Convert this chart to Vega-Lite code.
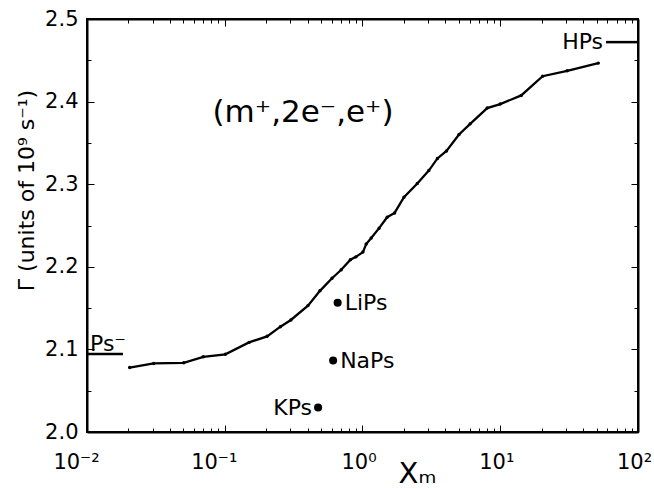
{
  "$schema": "https://vega.github.io/schema/vega-lite/v6.json",
  "autosize": "none",
  "width": 551,
  "height": 413,
  "padding": {"left": 87, "top": 19, "right": 16, "bottom": 57},
  "config": {"view": {"stroke": "black", "strokeWidth": 2}},
  "datasets": {
    "curve": [
      {"x": 0.0204, "y": 2.078}, {"x": 0.0305, "y": 2.083}, {"x": 0.0504, "y": 2.0838},
      {"x": 0.0698, "y": 2.091}, {"x": 0.101, "y": 2.094}, {"x": 0.150, "y": 2.1085},
      {"x": 0.203, "y": 2.1158}, {"x": 0.2535, "y": 2.1275}, {"x": 0.302, "y": 2.1356},
      {"x": 0.402, "y": 2.153}, {"x": 0.491, "y": 2.1709}, {"x": 0.601, "y": 2.1862},
      {"x": 0.701, "y": 2.1964}, {"x": 0.817, "y": 2.2085}, {"x": 0.895, "y": 2.212},
      {"x": 1.007, "y": 2.2178}, {"x": 1.064, "y": 2.2275}, {"x": 1.157, "y": 2.2348},
      {"x": 1.32, "y": 2.2468}, {"x": 1.51, "y": 2.26}, {"x": 1.71, "y": 2.2652},
      {"x": 2.0, "y": 2.2842}, {"x": 2.5, "y": 2.3008}, {"x": 3.03, "y": 2.3165},
      {"x": 3.5, "y": 2.3312}, {"x": 4.07, "y": 2.3403}, {"x": 5.02, "y": 2.3602},
      {"x": 6.05, "y": 2.3731}, {"x": 8.04, "y": 2.3922}, {"x": 10.0, "y": 2.397},
      {"x": 14.2, "y": 2.4075}, {"x": 20.3, "y": 2.4307}, {"x": 30.6, "y": 2.4373},
      {"x": 51.5, "y": 2.4466}
    ],
    "atoms": [
      {"name": "LiPs", "x": 0.66, "y": 2.1565, "side": "right"},
      {"name": "NaPs", "x": 0.612, "y": 2.0865, "side": "right"},
      {"name": "KPs", "x": 0.476, "y": 2.0296, "side": "left"}
    ],
    "limits": [
      {"name": "Ps⁻", "x": 0.01, "x2": 0.01824, "y": 2.0945},
      {"name": "HPs", "x": 58.6, "x2": 100, "y": 2.472}
    ]
  },
  "layer": [
    {
      "layer": [
        {
          "data": {"name": "curve"},
          "mark": {"type": "line", "color": "black", "strokeWidth": 2.3},
          "encoding": {
            "x": {"field": "x", "type": "quantitative",
              "scale": {"type": "log", "domain": [0.01, 100], "nice": false},
              "axis": {
                "orient": "bottom",
                "grid": false,
                "domainColor": "black",
                "domainWidth": 2,
                "tickColor": "black",
                "values": [0.01,0.02,0.03,0.04,0.05,0.06,0.07,0.08,0.09,0.1,0.2,0.3,0.4,0.5,0.6,0.7,0.8,0.9,1,2,3,4,5,6,7,8,9,10,20,30,40,50,60,70,80,90,100],
                "labelExpr": "abs(log(datum.value)/LN10 - round(log(datum.value)/LN10)) < 1e-6 ? (round(log(datum.value)/LN10) == -2 ? '10⁻²' : round(log(datum.value)/LN10) == -1 ? '10⁻¹' : round(log(datum.value)/LN10) == 0 ? '10⁰' : round(log(datum.value)/LN10) == 1 ? '10¹' : '10²') : ''",
                "tickSize": {"condition": {"test": "abs(log(datum.value)/LN10 - round(log(datum.value)/LN10)) < 1e-6", "value": -7}, "value": -4},
                "labelPadding": 26,
                "labelOffset": {"condition": {"test": "datum.value < 0.5", "value": -11}, "value": -4},
                "labelFont": "DejaVu Sans",
                "labelFontSize": 21,
                "labelColor": "black",
                "labelFlush": false,
                "labelOverlap": false,
                "title": "Xₘ",
                "titleFont": "DejaVu Sans",
                "titleFontSize": 29,
                "titleFontWeight": "normal",
                "titleColor": "black",
                "titleX": 330,
                "titleY": 27,
                "titleBaseline": "top"
              }
            },
            "y": {"field": "y", "type": "quantitative",
              "scale": {"domain": [2.0, 2.5], "nice": false, "zero": false},
              "axis": {
                "orient": "left",
                "grid": false,
                "domainColor": "black",
                "domainWidth": 2,
                "tickColor": "black",
                "values": [2.0,2.05,2.1,2.15,2.2,2.25,2.3,2.35,2.4,2.45,2.5],
                "labelExpr": "abs(datum.value*10 - round(datum.value*10)) < 1e-6 ? format(datum.value, '.1f') : ''",
                "tickSize": {"condition": {"test": "abs(datum.value*10 - round(datum.value*10)) < 1e-6", "value": -7}, "value": -4},
                "labelPadding": 16,
                "labelFont": "DejaVu Sans",
                "labelFontSize": 21,
                "labelColor": "black",
                "labelFlush": false,
                "labelOverlap": false,
                "title": "Γ  (units of 10⁹ s⁻¹)",
                "titleFont": "DejaVu Sans",
                "titleFontSize": 22,
                "titleFontWeight": "normal",
                "titleColor": "black",
                "titleX": -61,
                "titleY": 171,
                "titleAngle": -90,
                "titleAlign": "center",
                "titleBaseline": "middle"
              }
            }
          }
        },
        {
          "data": {"name": "atoms"},
          "mark": {"type": "circle", "color": "black", "opacity": 1, "size": 65},
          "encoding": {
            "x": {"field": "x", "type": "quantitative"},
            "y": {"field": "y", "type": "quantitative"}
          }
        },
        {
          "data": {"name": "atoms"},
          "transform": [{"filter": "datum.side == 'right'"}],
          "mark": {"type": "text", "align": "left", "baseline": "middle", "dx": 7, "fontSize": 22, "font": "DejaVu Sans", "color": "black"},
          "encoding": {
            "x": {"field": "x", "type": "quantitative"},
            "y": {"field": "y", "type": "quantitative"},
            "text": {"field": "name"}
          }
        },
        {
          "data": {"name": "atoms"},
          "transform": [{"filter": "datum.side == 'left'"}],
          "mark": {"type": "text", "align": "right", "baseline": "middle", "dx": -6, "fontSize": 22, "font": "DejaVu Sans", "color": "black"},
          "encoding": {
            "x": {"field": "x", "type": "quantitative"},
            "y": {"field": "y", "type": "quantitative"},
            "text": {"field": "name"}
          }
        },
        {
          "data": {"name": "limits"},
          "mark": {"type": "rule", "color": "black", "strokeWidth": 2.5},
          "encoding": {
            "x": {"field": "x", "type": "quantitative"},
            "x2": {"field": "x2"},
            "y": {"field": "y", "type": "quantitative"}
          }
        },
        {
          "data": {"name": "limits"},
          "transform": [{"filter": "datum.name == 'HPs'"}],
          "mark": {"type": "text", "align": "right", "baseline": "middle", "dx": -3, "fontSize": 22, "font": "DejaVu Sans", "color": "black"},
          "encoding": {
            "x": {"field": "x", "type": "quantitative"},
            "y": {"field": "y", "type": "quantitative"},
            "text": {"field": "name"}
          }
        },
        {
          "data": {"name": "limits"},
          "transform": [{"filter": "datum.name == 'Ps⁻'"}],
          "mark": {"type": "text", "align": "left", "baseline": "alphabetic", "dx": 3, "dy": -3, "fontSize": 22, "font": "DejaVu Sans", "color": "black"},
          "encoding": {
            "x": {"field": "x", "type": "quantitative"},
            "y": {"field": "y", "type": "quantitative"},
            "text": {"field": "name"}
          }
        },
        {
          "data": {"values": [{"label": "(m⁺,2e⁻,e⁺)", "x": 0.37, "y": 2.386}]},
          "mark": {"type": "text", "align": "center", "baseline": "middle", "fontSize": 31, "font": "DejaVu Sans", "color": "black"},
          "encoding": {
            "x": {"field": "x", "type": "quantitative"},
            "y": {"field": "y", "type": "quantitative"},
            "text": {"field": "label"}
          }
        }
      ]
    },
    {
      "data": {"name": "curve"},
      "mark": {"type": "circle", "color": "black", "opacity": 1, "size": 12},
      "encoding": {
        "x": {"field": "x", "type": "quantitative",
          "axis": {
            "orient": "top",
            "grid": false,
            "domainColor": "black",
            "domainWidth": 2,
            "tickColor": "black",
            "values": [0.01,0.02,0.03,0.04,0.05,0.06,0.07,0.08,0.09,0.1,0.2,0.3,0.4,0.5,0.6,0.7,0.8,0.9,1,2,3,4,5,6,7,8,9,10,20,30,40,50,60,70,80,90,100],
            "labels": false,
            "title": null,
            "tickSize": {"condition": {"test": "abs(log(datum.value)/LN10 - round(log(datum.value)/LN10)) < 1e-6", "value": -7}, "value": -4}
          }
        },
        "y": {"field": "y", "type": "quantitative",
          "axis": {
            "orient": "right",
            "grid": false,
            "domainColor": "black",
            "domainWidth": 2,
            "tickColor": "black",
            "values": [2.0,2.05,2.1,2.15,2.2,2.25,2.3,2.35,2.4,2.45,2.5],
            "labels": false,
            "title": null,
            "tickSize": {"condition": {"test": "abs(datum.value*10 - round(datum.value*10)) < 1e-6", "value": -7}, "value": -4}
          }
        }
      }
    }
  ],
  "resolve": {"axis": {"x": "independent", "y": "independent"}}
}
